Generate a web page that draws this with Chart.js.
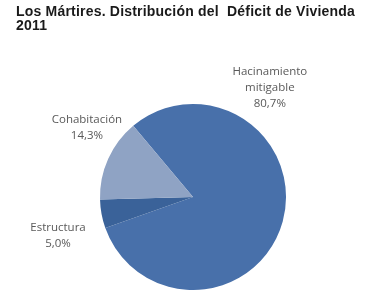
<!DOCTYPE html>
<html>
<head>
<meta charset="utf-8">
<script src="https://cdn.jsdelivr.net/npm/chart.js@4.4.0/dist/chart.umd.min.js"></script>
<style>
  html, body { margin: 0; padding: 0; background: #fff; }
  #wrap { position: relative; width: 374px; height: 290px; }
  #title {
    position: absolute; left: 16px; top: 4px;
    font: bold 14px "Liberation Sans", Arial, sans-serif;
    letter-spacing: 0.2px;
    color: #1a1a1a; line-height: 14px; white-space: pre;
  }
</style>
</head>
<body>
<div id="wrap">
  <canvas id="chart" width="374" height="290"></canvas>
  <div id="title">Los Mártires. Distribución del  Déficit de Vivienda
2011</div>
</div>
<script>
// Déficit de vivienda, Los Mártires 2011
const categories = ['Hacinamiento mitigable', 'Estructura', 'Cohabitación'];
const shares = [80.7, 5.0, 14.3];
const labelLines = [
  ['Hacinamiento', 'mitigable', '80,7%'],
  ['Estructura', '5,0%'],
  ['Cohabitación', '14,3%']
];
const sliceColors = ['#4870aa', '#3a6299', '#8fa3c4'];

// where each label sits: angle (deg, canvas) and distance in radii
const labelPlace = [
  { angle: -55, dist: 1.44 },
  { angle: 164, dist: 1.51 },
  { angle: -147, dist: 1.36 }
];

const pieLabels = {
  id: 'pieLabels',
  afterDatasetsDraw(chart) {
    const ctx = chart.ctx;
    const arcs = chart.getDatasetMeta(0).data;
    ctx.save();
    ctx.font = '11.5px "Open Sans", sans-serif';
    ctx.fillStyle = '#595959';
    ctx.textAlign = 'center';
    ctx.textBaseline = 'middle';
    arcs.forEach((arc, i) => {
      const p = labelPlace[i];
      const a = p.angle * Math.PI / 180;
      const cx = arc.x + Math.cos(a) * arc.outerRadius * p.dist;
      const cy = arc.y + Math.sin(a) * arc.outerRadius * p.dist;
      const lines = labelLines[i];
      const lh = 16;
      lines.forEach((t, j) => {
        ctx.fillText(t, cx, cy + (j - (lines.length - 1) / 2) * lh);
      });
    });
    ctx.restore();
  }
};

new Chart(document.getElementById('chart'), {
  type: 'pie',
  data: {
    labels: categories,
    datasets: [{
      data: shares,
      backgroundColor: sliceColors,
      borderWidth: 0
    }]
  },
  options: {
    responsive: false,
    animation: false,
    rotation: -40,
    layout: { padding: { left: 100, right: 88, top: 104, bottom: 0 } },
    plugins: {
      legend: { display: false },
      tooltip: { enabled: false }
    }
  },
  plugins: [pieLabels]
});
</script>
</body>
</html>
